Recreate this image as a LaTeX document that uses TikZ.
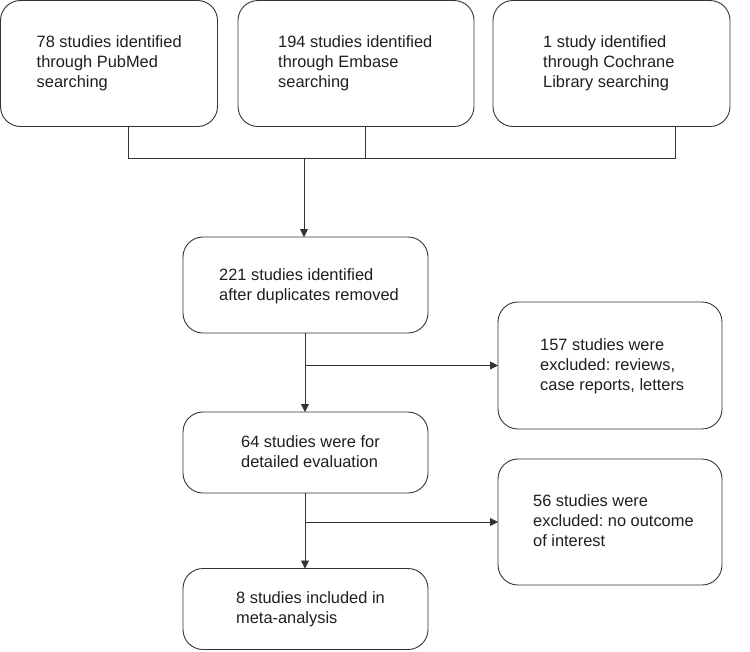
\documentclass[tikz,border=0pt]{standalone}
\usepackage{fontspec}
\setmainfont{Liberation Sans}
\usetikzlibrary{arrows.meta,calc}
\frenchspacing
\begin{document}
\begin{tikzpicture}[x=1pt,y=-1pt,
  box/.style={draw=black!80,line width=0.9pt,rounded corners=20pt,inner sep=0pt,outer sep=0pt,anchor=north west,fill=white},
  txt/.style={anchor=base west,align=left,inner sep=0pt,text=black!88,font=\fontsize{16.4}{20}\selectfont},
  conn/.style={draw=black!80,line width=0.8pt},
  arr/.style={conn,-{Triangle[length=8pt,width=8pt]}}]
\fill[white] (0,0) rectangle (750,651);
\useasboundingbox (0,0) rectangle (750,651);
\node[box,minimum width=217pt,minimum height=126pt] (b1) at (0.5,0.5) {};
\node[box,minimum width=236pt,minimum height=126pt] (b2) at (238,0.5) {};
\node[box,minimum width=237pt,minimum height=126pt] (b3) at (493,0.5) {};
\node[box,minimum width=245pt,minimum height=96pt] (b4) at (183,237) {};
\node[box,minimum width=224pt,minimum height=127pt] (e1) at (498,302) {};
\node[box,minimum width=245pt,minimum height=81pt] (b5) at (183,412) {};
\node[box,minimum width=224pt,minimum height=126pt] (e2) at (498,459) {};
\node[box,minimum width=245pt,minimum height=81pt] (b6) at (183,568.5) {};
\node[txt] (t1) at ($(b1.north west)+(36,87)$) {78 studies identified\\through PubMed\\searching};
\node[txt] (t2) at ($(b2.north west)+(40,87)$) {194 studies identified\\through Embase\\searching};
\node[txt] (t3) at ($(b3.north west)+(50,87)$) {1 study identified\\through Cochrane\\Library searching};
\node[txt] (t4) at ($(b4.north west)+(36,63)$) {221 studies identified\\after duplicates removed};
\node[txt] (t5) at ($(e1.north west)+(42,88)$) {157 studies were\\excluded: reviews,\\case reports, letters};
\node[txt] (t6) at ($(b5.north west)+(58,55)$) {64 studies were for\\detailed evaluation};
\node[txt] (t7) at ($(e2.north west)+(35,87)$) {56 studies were\\excluded: no outcome\\of interest};
\node[txt] (t8) at ($(b6.north west)+(53,55)$) {8 studies included in\\meta-analysis};
\coordinate (j) at (304,158);
\coordinate (c1) at (305,0);
\draw[conn] (b1.south west) ++(128,0) |- (j);
\draw[conn] (b2.south west) ++(127,0) |- (j);
\draw[conn] (b3.south west) ++(182,0) |- (j);
\draw[arr] (j) -- (j |- b4.north);
\draw[arr] (b4.south -| c1) -- (b5.north -| c1);
\draw[arr] (e1.west -| c1) -- (e1.west);
\draw[arr] (b5.south -| c1) -- (b6.north -| c1);
\draw[arr] (e2.west -| c1) -- (e2.west);
\end{tikzpicture}
\end{document}
